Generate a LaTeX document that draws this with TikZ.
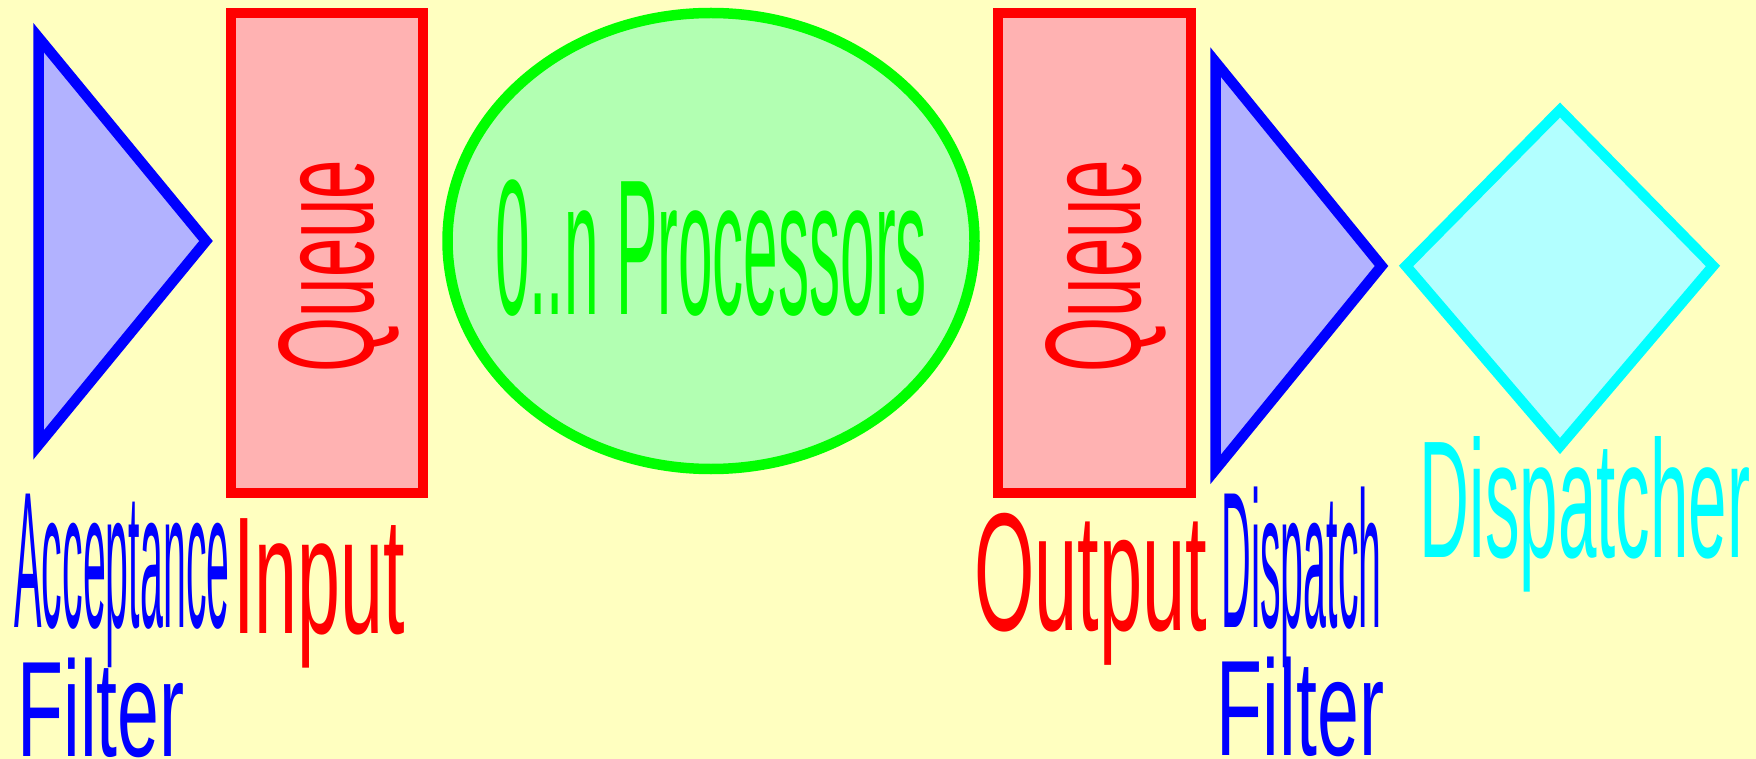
\documentclass[tikz,border=0pt]{standalone}
\usepackage{xcolor}
\usepackage{tikz}
\usepackage{graphicx}
\usepackage{fontspec}
\setmainfont{Liberation Sans}
\definecolor{bgyellow}{RGB}{255,255,192}
\definecolor{fblue}{RGB}{0,0,255}
\definecolor{qred}{RGB}{255,0,0}
\definecolor{pgreen}{RGB}{0,255,0}
\definecolor{daqua}{RGB}{0,255,255}

\begin{document}
\begin{tikzpicture}[x=1pt, y=-1pt, line width=10.5pt, line join=miter]
        \tikzset{
            lbl/.style={inner sep=0pt, anchor=base},
            filt/.style={draw=fblue, fill=fblue!30},
            queue/.style={draw=qred, fill=qred!30},
            proc/.style={draw=pgreen, fill=pgreen!30},
            disp/.style={draw=daqua, fill=daqua!30}
        }
        % Background
        \fill[bgyellow] (0,0) rectangle (1756,759);
        \useasboundingbox (0,0) rectangle (1756,759);

        % Acceptance Filter
        \filldraw[filt] (38.5,37.5) -- (206,241) -- (38.5,445) -- cycle;
        \node[lbl, text=fblue, font=\fontsize{194}{194}\selectfont] (accept) at (122,627) {\scalebox{0.212}[1]{Acceptance}};
        \node[lbl, text=fblue, font=\fontsize{136}{136}\selectfont] (acceptf) at (101,756) {\scalebox{0.553}[1]{Filter}};

        % Input Queue
        \filldraw[queue] (231,13) rectangle (423,493);
        \node[lbl, rotate=90, text=qred, font=\fontsize{136}{136}\selectfont] (inqueue) at (373,266) {\scalebox{0.52}[1]{Queue}};
        \node[lbl, text=qred, font=\fontsize{167}{167}\selectfont] (input) at (319,633) {\scalebox{0.462}[1]{Input}};

        % Processors
        \filldraw[proc] (711,241) ellipse [x radius=263.5, y radius=228];
        \node[lbl, text=pgreen, font=\fontsize{193}{193}\selectfont] (procs) at (711,315) {\scalebox{0.322}[1]{0..n Processors}};

        % Output Queue
        \filldraw[queue] (998,13) rectangle (1191,493);
        \node[lbl, rotate=90, text=qred, font=\fontsize{136}{136}\selectfont] (outqueue) at (1140,266) {\scalebox{0.52}[1]{Queue}};
        \node[lbl, text=qred, font=\fontsize{168}{168}\selectfont] (output) at (1090.5,630) {\scalebox{0.462}[1]{Output}};

        % Dispatch Filter
        \filldraw[filt] (1215.5,62) -- (1381.5,266) -- (1215.5,469.5) -- cycle;
        \node[lbl, text=fblue, font=\fontsize{194}{194}\selectfont] (dispatch) at (1301.5,627) {\scalebox{0.212}[1]{Dispatch}};
        \node[lbl, text=fblue, font=\fontsize{136}{136}\selectfont] (dispatchf) at (1300.5,755) {\scalebox{0.553}[1]{Filter}};

        % Dispatcher
        \filldraw[disp] (1560,110) -- (1713,266) -- (1560,446) -- (1406,266) -- cycle;
        \node[lbl, text=daqua, font=\fontsize{167}{167}\selectfont] (dispatcher) at (1585,557) {\scalebox{0.414}[1]{Dispatcher}};
    \end{tikzpicture}
\end{document}
